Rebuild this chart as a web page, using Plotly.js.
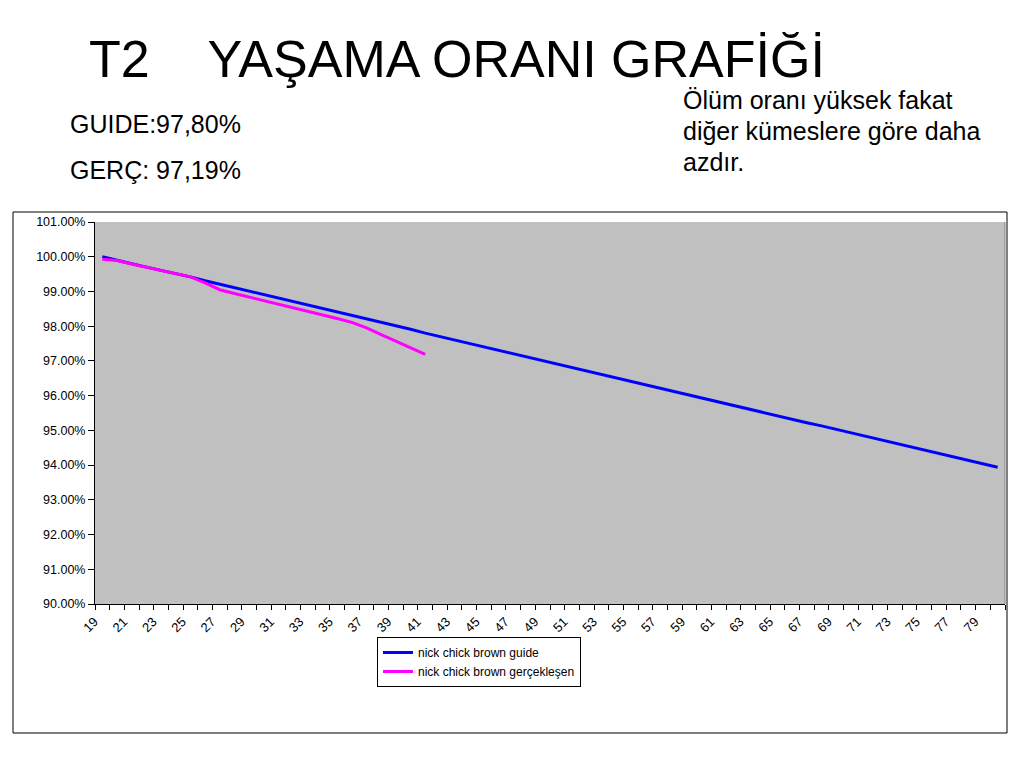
<!DOCTYPE html>
<html>
<head>
<meta charset="utf-8">
<script src="https://cdn.plot.ly/plotly-3.0.1.min.js"></script>
<style>html,body{margin:0;padding:0;background:#fff;}#chart{width:1024px;height:768px;}</style>
</head>
<body>
<div id="chart"></div>
<script>
const weeks = [19,20,21,22,23,24,25,26,27,28,29,30,31,32,33,34,35,36,37,38,39,40,41,42,43,44,45,46,47,48,49,50,51,52,53,54,55,56,57,58,59,60,61,62,63,64,65,66,67,68,69,70,71,72,73,74,75,76,77,78,79,80];
const guide = [100.00,99.91,99.80,99.70,99.61,99.51,99.42,99.31,99.21,99.12,99.02,98.92,98.83,98.73,98.62,98.53,98.43,98.32,98.23,98.12,98.02,97.91,97.80,
  97.70,97.60,97.50,97.41,97.31,97.21,97.11,97.01,96.91,96.81,96.71,96.61,96.51,96.41,96.31,96.21,96.12,96.02,95.92,95.82,95.72,95.62,95.52,95.42,95.32,95.22,95.13,95.03,94.93,94.83,94.73,94.63,94.53,94.43,94.33,94.23,94.14,94.04,93.94];
const actualWeeks = [19,20,21,22,23,24,25,26,27,28,29,30,31,32,33,34,35,36,37,38,39,40,41];
const actual = [99.93,99.89,99.79,99.70,99.61,99.52,99.42,99.25,99.05,98.94,98.84,98.73,98.63,98.52,98.42,98.32,98.22,98.11,97.95,97.76,97.57,97.38,97.19];
const xTickVals = [19,21,23,25,27,29,31,33,35,37,39,41,43,45,47,49,51,53,55,57,59,61,63,65,67,69,71,73,75,77,79];
const xTickText = ["19","21","23","25","27","29","31","33","35","37","39","41","43","45","47","49","51","53","55","57","59","61","63","65","67","69","71","73","75","77","79"];
const yTickVals = [90,91,92,93,94,95,96,97,98,99,100,101];
const yTickText = ["90.00%","91.00%","92.00%","93.00%","94.00%","95.00%","96.00%","97.00%","98.00%","99.00%","100.00%","101.00%"];
const seriesNames = ["nick chick brown guide","nick chick brown gerçekleşen"];
const titleText = "T2\u00A0\u00A0\u00A0\u00A0YAŞAMA ORANI GRAFİĞİ";
const noteLeft = ["GUIDE:97,80%","GERÇ: 97,19%"];
const noteRight = ["Ölüm oranı yüksek fakat","diğer kümeslere göre daha","azdır."];

const L=95, R=1005, T=222, B=604, W=1024, H=768;
const px = x => (x-L)/(R-L);
const py = y => (B-y)/(B-T);
const FONT = "Liberation Sans, Arial, sans-serif";

const traces = [
  {x: weeks, y: guide, name: seriesNames[0], mode:'lines', line:{color:'#0000FF', width:3}},
  {x: actualWeeks, y: actual, name: seriesNames[1], mode:'lines', line:{color:'#FF00FF', width:3}}
];

const annotations = [
  {text: noteLeft[0], x: px(68), y: py(124), xanchor:'left', yanchor:'middle'},
  {text: noteLeft[1], x: px(68), y: py(170), xanchor:'left', yanchor:'middle'},
  {text: noteRight[0], x: px(681), y: py(100), xanchor:'left', yanchor:'middle'},
  {text: noteRight[1], x: px(681), y: py(131), xanchor:'left', yanchor:'middle'},
  {text: noteRight[2], x: px(681), y: py(162), xanchor:'left', yanchor:'middle'}
].map(a => Object.assign({xref:'paper', yref:'paper', showarrow:false, font:{family:FONT, size:25, color:'#000'}}, a));

const layout = {
  width: W, height: H,
  paper_bgcolor:'#fff', plot_bgcolor:'#C0C0C0',
  margin:{l:L, r:W-R, t:T, b:H-B, pad:0},
  font:{family:FONT, color:'#000'},
  title:{text:titleText, font:{family:FONT, size:52, color:'#000'}, x:457/W, xanchor:'center', y:1-59/H, yanchor:'middle', xref:'container', yref:'container'},
  showlegend:true,
  legend:{x:px(377), y:py(637), xanchor:'left', yanchor:'top', bgcolor:'#fff', bordercolor:'#000', borderwidth:1, font:{family:FONT, size:12, color:'#000'}, tracegroupgap:0},
  xaxis:{range:[18.5,80.5], tickmode:'array', tickvals:xTickVals, ticktext:xTickText, tickangle:-45, ticks:'', showgrid:false, zeroline:false,
    showline:true, linecolor:'#000', linewidth:1, tickfont:{family:FONT, size:13, color:'#000'}, ticklabelshift:-8, ticklabelstandoff:4,
    minor:{ticks:'outside', tick0:18.5, dtick:1, ticklen:5, tickcolor:'#000', showgrid:false}},
  yaxis:{range:[90,101], tickmode:'array', tickvals:yTickVals, ticktext:yTickText, ticks:'outside', ticklen:6, tickcolor:'#000', showgrid:false, zeroline:false,
    showline:true, linecolor:'#000', linewidth:1, tickfont:{family:FONT, size:12.5, color:'#000'}},
  shapes:[
    {type:'rect', xref:'paper', yref:'paper', x0:px(13), x1:px(1007), y0:py(733), y1:py(212), line:{color:'#000', width:1}, fillcolor:'rgba(0,0,0,0)', layer:'below'},
    {type:'line', xref:'paper', yref:'paper', x0:1, x1:1, y0:0, y1:1, line:{color:'#808080', width:1}}
  ],
  annotations: annotations
};

Plotly.newPlot('chart', traces, layout, {staticPlot:true, displayModeBar:false});
</script>
</body>
</html>
